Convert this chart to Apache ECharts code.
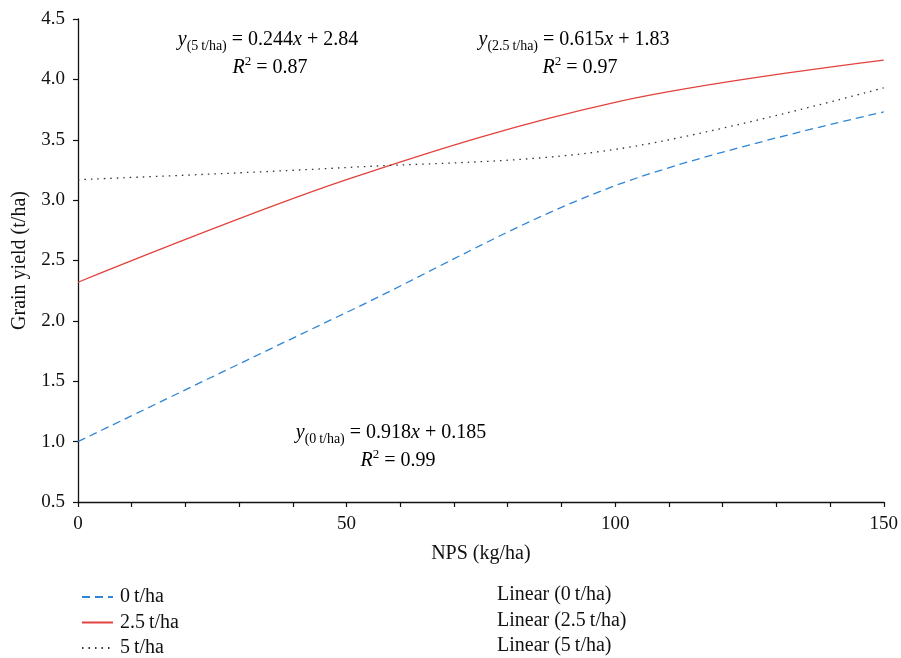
<!DOCTYPE html>
<html>
<head>
<meta charset="utf-8">
<script src="https://cdn.jsdelivr.net/npm/echarts@6/dist/echarts.min.js"></script>
<style>html,body{margin:0;padding:0;background:#fff}#c{width:901px;height:658px}</style>
</head>
<body>
<div id="c"></div>
<script>
const nps = [0, 50, 100, 150];
const yield0 = [1.00, 2.07, 3.12, 3.73];
const yield25 = [2.32, 3.17, 3.81, 4.16];
const yield5 = [3.17, 3.27, 3.42, 3.93];
const seriesNames = ['0\u2009t/ha', '2.5\u2009t/ha', '5\u2009t/ha'];
const linearNames = ['Linear (0\u2009t/ha)', 'Linear (2.5\u2009t/ha)', 'Linear (5\u2009t/ha)'];
const xTicks = [0, 50, 100, 150];

const FONT = '"Liberation Serif", "DejaVu Serif", serif';
const chart = echarts.init(document.getElementById('c'), null, {renderer: 'canvas'});

function pairs(ys) { return nps.map((x, i) => [x, ys[i]]); }

const colors = ['#2f86d6', '#e2423d', '#333333'];
const types = [[8, 5], 'solid', [1.5, 5]];
const datasets = [yield0, yield25, yield5];

const eqRich = {
  i: {fontFamily: FONT, fontSize: 20, fontStyle: 'italic', lineHeight: 26, color: '#111'},
  n: {fontFamily: FONT, fontSize: 20, lineHeight: 26, color: '#111'},
  s: {fontFamily: FONT, fontSize: 14, lineHeight: 15, verticalAlign: 'bottom', color: '#111'},
  p: {fontFamily: FONT, fontSize: 13, lineHeight: 15, verticalAlign: 'top', color: '#111'}
};
function eq(sub, rest, cx, cy) {
  return {type: 'text', x: cx, y: cy, style: {
    text: '{i|y}{s|(' + sub + ')}{n| = ' + rest[0] + '}{i|x}{n| + ' + rest[1] + '}',
    rich: eqRich, align: 'center', verticalAlign: 'middle'}};
}
function r2(val, cx, cy) {
  return {type: 'text', x: cx, y: cy, style: {
    text: '{i|R}{p|2}{n| = ' + val + '}', rich: eqRich, align: 'center', verticalAlign: 'middle'}};
}

const legends = seriesNames.map((n, k) => ({
  data: [n], left: 76, top: 582 + k * 25.5, itemWidth: 31, itemHeight: 16, itemGap: 10,
  itemStyle: {opacity: 0},
  textStyle: {fontFamily: FONT, fontSize: 20, color: '#111', padding: [0, 0, 0, 2]}
}));

const option = {
  backgroundColor: '#fff',
  animation: false,
  grid: {left: 78, right: 17, top: 19, bottom: 156, containLabel: false},
  xAxis: {
    type: 'value', min: 0, max: 150, interval: 10,
    name: 'NPS (kg/ha)', nameLocation: 'middle', nameGap: 42,
    nameTextStyle: {fontFamily: FONT, fontSize: 20, color: '#111'},
    axisLine: {lineStyle: {color: '#111', width: 1.3}},
    axisTick: {show: true, length: 5, lineStyle: {color: '#111', width: 1.2}},
    axisLabel: {fontFamily: FONT, fontSize: 19, color: '#111', margin: 13,
      formatter: v => xTicks.indexOf(v) >= 0 ? String(v) : ''},
    splitLine: {show: false}
  },
  yAxis: {
    type: 'value', min: 0.5, max: 4.5, interval: 0.5,
    name: 'Grain yield (t/ha)', nameLocation: 'middle', nameGap: 48,
    nameTextStyle: {fontFamily: FONT, fontSize: 20, color: '#111'},
    axisLine: {show: true, lineStyle: {color: '#111', width: 1.3}},
    axisTick: {show: true, length: 5, lineStyle: {color: '#111', width: 1.2}},
    axisLabel: {fontFamily: FONT, fontSize: 19, color: '#111', margin: 13,
      formatter: v => v.toFixed(1)},
    splitLine: {show: false}
  },
  legend: legends,
  series: datasets.map((d, k) => ({
    name: seriesNames[k], type: 'line', data: pairs(d), smooth: 0.35,
    symbol: 'none', showSymbol: false,
    lineStyle: {color: colors[k], width: 1.3, type: types[k]},
    itemStyle: {color: colors[k]}
  })),
  graphic: [
    eq('5\u2009t/ha', ['0.244', '2.84'], 268, 40),
    r2('0.87', 270, 68),
    eq('2.5\u2009t/ha', ['0.615', '1.83'], 574, 40),
    r2('0.97', 580, 68),
    eq('0\u2009t/ha', ['0.918', '0.185'], 391, 433),
    r2('0.99', 398, 461)
  ].concat(linearNames.map((t, k) => ({
    type: 'text', left: 497, top: 585 + k * 25.5,
    style: {text: t, fontFamily: FONT, fontSize: 20, fill: '#111'}
  })))
};
chart.setOption(option);
</script>
</body>
</html>
